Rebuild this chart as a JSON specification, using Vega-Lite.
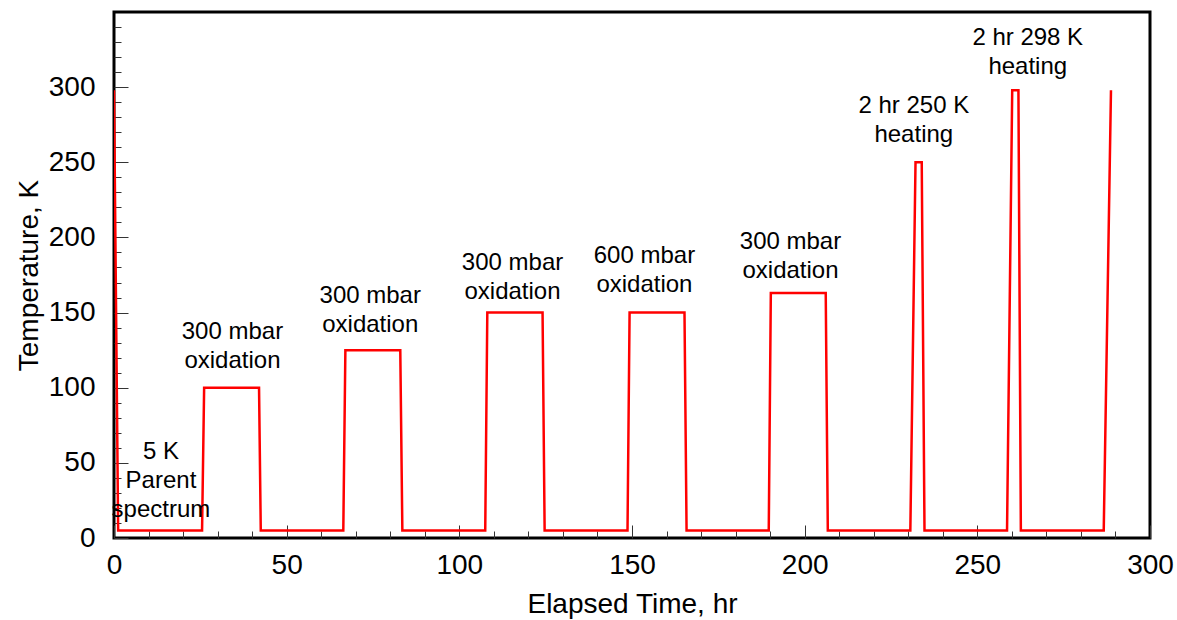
{
  "$schema": "https://vega.github.io/schema/vega-lite/v6.json",
  "width": 1036,
  "height": 526,
  "autosize": "none",
  "padding": {"left": 114, "top": 12, "right": 27, "bottom": 82},
  "background": "white",
  "config": {
    "view": {"stroke": "black", "strokeWidth": 3},
    "font": "Liberation Sans",
    "axis": {
      "grid": false,
      "domain": false,
      "tickColor": "#333333",
      "tickWidth": 1,
      "labelColor": "black",
      "titleColor": "black",
      "labelFont": "Liberation Sans",
      "titleFont": "Liberation Sans",
      "labelFontSize": 28,
      "titleFontSize": 28,
      "titleFontWeight": "normal"
    }
  },
  "datasets": {
    "temp": [
      {"t": 0, "k": 298}, {"t": 1.2, "k": 5}, {"t": 25.5, "k": 5}, {"t": 26.1, "k": 100},
      {"t": 42.0, "k": 100}, {"t": 42.5, "k": 5}, {"t": 66.4, "k": 5}, {"t": 67.0, "k": 125},
      {"t": 82.9, "k": 125}, {"t": 83.5, "k": 5}, {"t": 107.5, "k": 5}, {"t": 108.1, "k": 150},
      {"t": 124.1, "k": 150}, {"t": 124.7, "k": 5}, {"t": 148.7, "k": 5}, {"t": 149.3, "k": 150},
      {"t": 165.2, "k": 150}, {"t": 165.8, "k": 5}, {"t": 189.6, "k": 5}, {"t": 190.2, "k": 163},
      {"t": 206.1, "k": 163}, {"t": 206.7, "k": 5}, {"t": 230.6, "k": 5}, {"t": 232.1, "k": 250},
      {"t": 233.9, "k": 250}, {"t": 234.7, "k": 5}, {"t": 258.6, "k": 5}, {"t": 260.1, "k": 298},
      {"t": 261.9, "k": 298}, {"t": 262.6, "k": 5}, {"t": 286.6, "k": 5}, {"t": 288.7, "k": 298}
    ],
    "notes": [
      {"t": 13.6, "k": 57.2, "label": "5 K\nParent\nspectrum"},
      {"t": 34.3, "k": 137, "label": "300 mbar\noxidation"},
      {"t": 74.2, "k": 161, "label": "300 mbar\noxidation"},
      {"t": 115.4, "k": 183, "label": "300 mbar\noxidation"},
      {"t": 153.6, "k": 187.5, "label": "600 mbar\noxidation"},
      {"t": 195.9, "k": 196.8, "label": "300 mbar\noxidation"},
      {"t": 231.6, "k": 287.2, "label": "2 hr 250 K\nheating"},
      {"t": 264.6, "k": 332.4, "label": "2 hr 298 K\nheating"}
    ]
  },
  "encoding": {
    "x": {
      "field": "t", "type": "quantitative",
      "scale": {"domain": [0, 300], "nice": false, "zero": false},
      "axis": {
        "title": "Elapsed Time, hr",
        "values": [0,10,20,30,40,50,60,70,80,90,100,110,120,130,140,150,160,170,180,190,200,210,220,230,240,250,260,270,280,290,300],
        "labelExpr": "datum.value % 50 === 0 ? datum.label : ''",
        "tickSize": {"condition": {"test": "datum.value % 50 === 0", "value": -13}, "value": -7},
        "labelPadding": 26,
        "titlePadding": 5,
        "labelFlush": false,
        "labelOverlap": false
      }
    },
    "y": {
      "field": "k", "type": "quantitative",
      "scale": {"domain": [0, 350], "nice": false},
      "axis": {
        "title": "Temperature, K",
        "values": [0,10,20,30,40,50,60,70,80,90,100,110,120,130,140,150,160,170,180,190,200,210,220,230,240,250,260,270,280,290,300,310,320,330,340],
        "labelExpr": "datum.value % 50 === 0 ? datum.label : ''",
        "tickSize": {"condition": {"test": "datum.value % 50 === 0", "value": -14}, "value": -7},
        "labelPadding": 33,
        "titlePadding": 5,
        "labelFlush": false,
        "labelOverlap": false
      }
    }
  },
  "layer": [
    {
      "data": {"name": "temp"},
      "mark": {"type": "line", "color": "#ff0000", "strokeWidth": 2.5, "clip": true},
      "encoding": {
        "order": {"field": "t", "type": "quantitative"}
      }
    },
    {
      "data": {"name": "notes"},
      "mark": {"type": "text", "fontSize": 24, "font": "Liberation Sans", "color": "black", "align": "center", "baseline": "middle", "lineBreak": "\n", "lineHeight": 29},
      "encoding": {
        "text": {"field": "label"}
      }
    }
  ]
}
